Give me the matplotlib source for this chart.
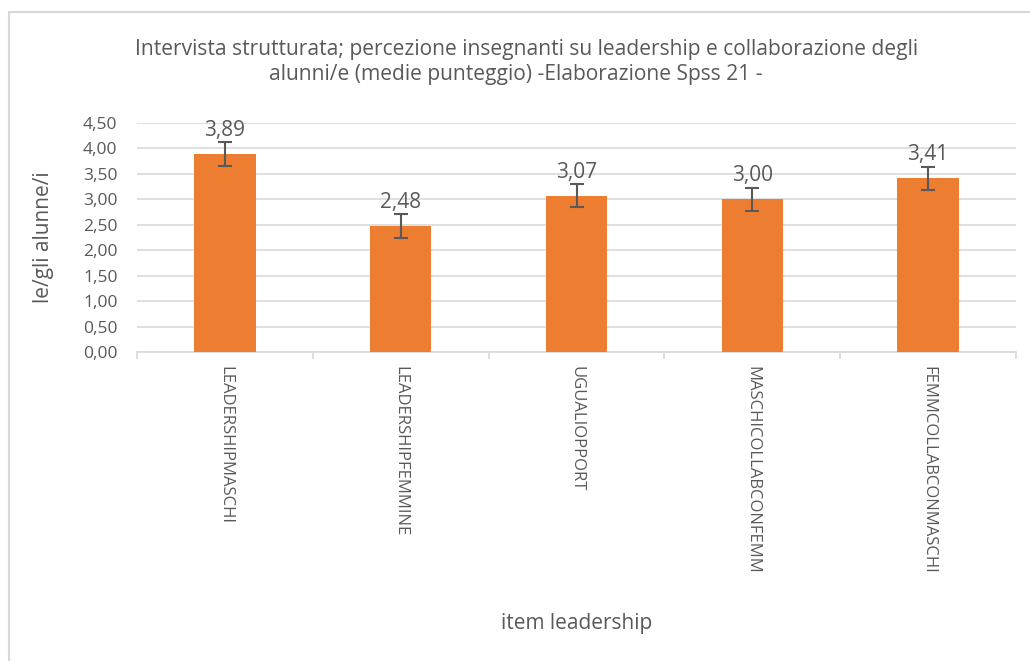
import numpy as np
import matplotlib
matplotlib.use("Agg")
from matplotlib import pyplot as plt
from matplotlib.patches import Rectangle
from matplotlib.ticker import FuncFormatter, FixedLocator

# Dati
categorie = ["LEADERSHIPMASCHI", "LEADERSHIPFEMMINE", "UGUALIOPPORT",
             "MASCHICOLLABCONFEMM", "FEMMCOLLABCONMASCHI"]
medie = [3.89, 2.48, 3.07, 3.00, 3.41]
errori = [0.23, 0.23, 0.23, 0.23, 0.23]
etichette_y = [0.0, 0.5, 1.0, 1.5, 2.0, 2.5, 3.0, 3.5, 4.0, 4.5]

titolo_1 = "Intervista strutturata; percezione insegnanti su leadership e collaborazione degli"
titolo_2 = "alunni/e (medie punteggio) -Elaborazione Spss 21 -"

arancio = "#ED7D31"
grigio = "#595959"
griglia = "#D9D9D9"

plt.rcParams['font.family'] = ['Open Sans', 'DejaVu Sans']

fig = plt.figure(figsize=(10.30, 6.61), dpi=100)
W, H = 1030, 661
# area del grafico (pixel)
x0, x1, y0, y1 = 137, 1016, 123, 352
ax = fig.add_axes([x0 / W, 1 - y1 / H, (x1 - x0) / W, (y1 - y0) / H])

# cornice del grafico
fig.patches.append(Rectangle((9 / W, -0.1), 1.2, 1 - 12 / H + 0.1,
                             transform=fig.transFigure, fill=False,
                             edgecolor=griglia, linewidth=1.5))

pos = np.arange(len(categorie))
ax.bar(pos, medie, width=0.35, color=arancio, zorder=3)
ax.errorbar(pos, medie, yerr=errori, fmt='none', ecolor=grigio,
            elinewidth=1.5, capsize=5, capthick=1.5, zorder=4)

for p, v, e in zip(pos, medie, errori):
    ax.text(p, v + e + 0.03, f"{v:.2f}".replace(".", ","), ha='center',
            va='bottom', fontsize=15, color=grigio)

ax.set_xlim(-0.5, len(categorie) - 0.5)
ax.set_ylim(0, 4.5)
ax.set_yticks(etichette_y)
ax.yaxis.set_major_formatter(FuncFormatter(lambda v, _: f"{v:.2f}".replace(".", ",")))
ax.grid(axis='y', color=griglia, linewidth=1.2, zorder=0)
ax.set_axisbelow(True)

ax.set_xticks(pos)
ax.set_xticklabels(categorie, rotation=-90, fontsize=12, color=grigio)
ax.xaxis.set_minor_locator(FixedLocator(np.arange(-0.5, len(categorie), 1.0)))
ax.tick_params(axis='x', which='major', length=0, pad=10)
ax.tick_params(axis='x', which='minor', length=5, color=griglia, width=1.2)
ax.tick_params(axis='y', length=0, labelsize=12.5, labelcolor=grigio, pad=14)

for s in ['top', 'right', 'left']:
    ax.spines[s].set_visible(False)
ax.spines['bottom'].set_color(griglia)
ax.spines['bottom'].set_linewidth(1.2)

# titolo su due righe
fig.text(527 / W, 1 - 55 / H, titolo_1, ha='center', va='baseline',
         fontsize=15.1, color=grigio)
fig.text(516 / W, 1 - 80 / H, titolo_2, ha='center', va='baseline',
         fontsize=15.1, color=grigio)
fig.text(43 / W, 1 - 237 / H, "le/gli alunne/i", rotation=90, ha='center',
         va='center', fontsize=15, color=grigio)
fig.text(577 / W, 1 - 624 / H, "item leadership", ha='center', va='center',
         fontsize=15, color=grigio)

fig.savefig("out.png", dpi=100, facecolor='white')
